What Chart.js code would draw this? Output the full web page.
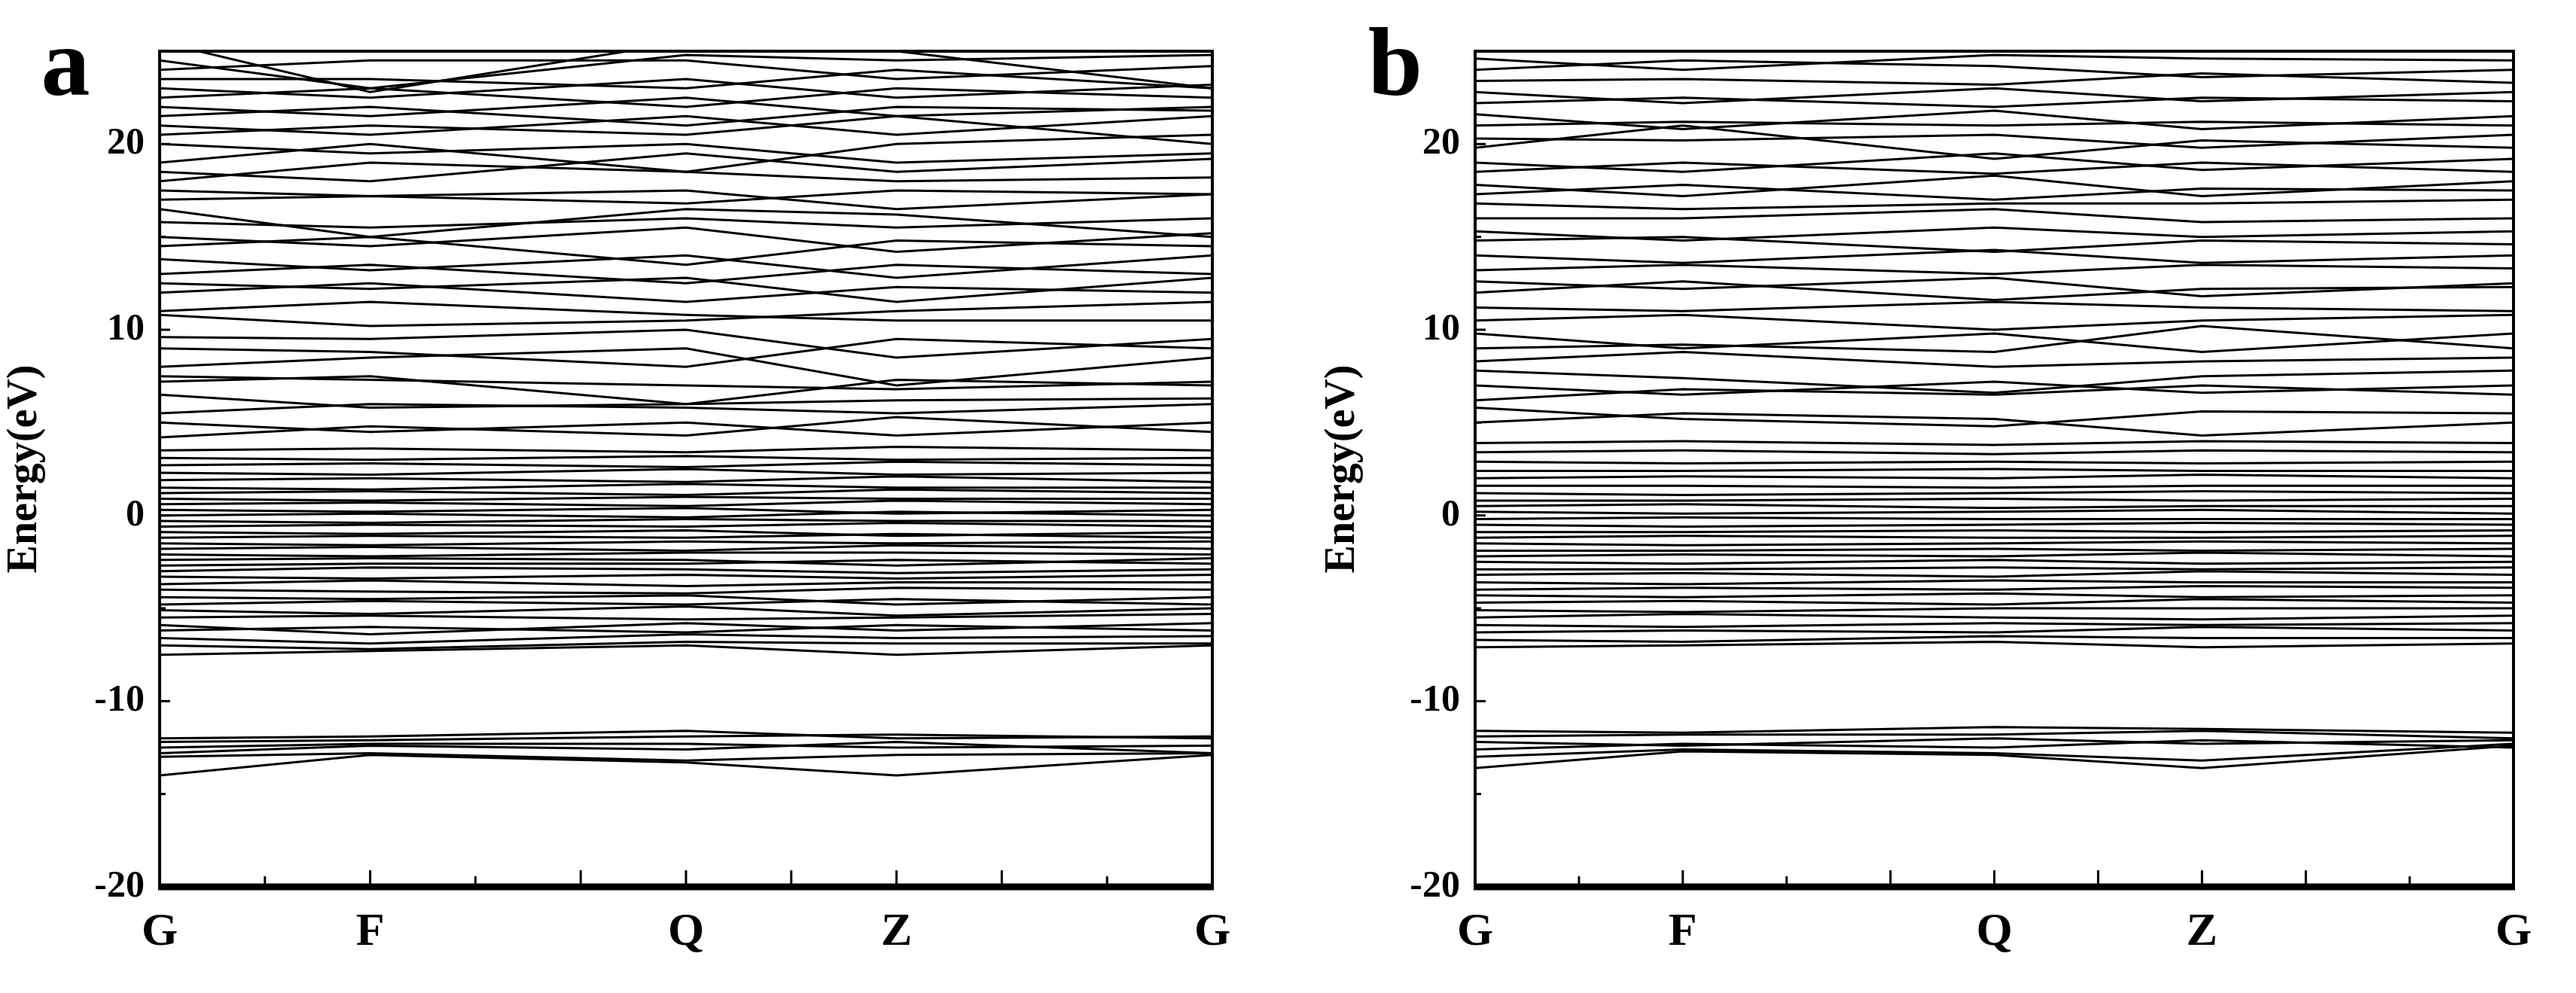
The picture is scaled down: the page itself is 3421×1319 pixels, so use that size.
<!DOCTYPE html>
<html><head><meta charset="utf-8">
<script src="https://cdn.jsdelivr.net/npm/chart.js@4/dist/chart.umd.min.js"></script>
<style>body{margin:0;background:#fff;width:3421px;height:1319px;overflow:hidden}
canvas{position:absolute;top:0}</style></head><body>
<canvas id="ca" style="left:0" width="1700" height="1319"></canvas>
<canvas id="cb" style="left:1750px" width="1671" height="1319"></canvas>
<script>
const kPos = [0, 2, 5, 7, 10];
const kLabels = {0:'G', 2:'F', 5:'Q', 7:'Z', 10:'G'};
const yTicks = [-20, -10, 0, 10, 20];
const bandsA = [
[-12.0,-11.9,-11.6,-12.0,-11.9],[-12.2,-12.1,-11.9,-11.8,-12.0],[-12.5,-12.3,-12.3,-12.5,-12.4],
[-12.8,-12.4,-12.6,-12.2,-12.8],[-13.0,-12.8,-13.2,-12.9,-12.8],[-14.0,-12.9,-13.3,-14.0,-12.9],
[-7.5,-7.3,-7.0,-7.5,-7.0],[-7.0,-7.2,-6.8,-6.9,-6.9],[-6.6,-6.9,-6.4,-6.6,-6.5],[-6.2,-6.0,-6.3,-5.9,-6.2],
[-5.9,-6.4,-5.8,-6.2,-5.8],[-5.5,-5.4,-5.6,-5.5,-5.3],[-5.1,-5.3,-4.9,-5.4,-5.0],[-4.8,-4.6,-4.8,-4.5,-4.8],
[-4.4,-4.5,-4.3,-4.8,-4.4],[-4.0,-4.1,-4.2,-3.9,-4.0],[-3.7,-3.5,-3.8,-3.6,-3.6],[-3.3,-3.4,-3.2,-3.4,-3.2],
[-3.0,-2.8,-2.9,-3.1,-2.9],[-2.7,-2.6,-2.6,-2.4,-2.6],[-2.4,-2.3,-2.4,-2.7,-2.3],[-2.1,-2.2,-2.0,-2.0,-2.1],
[-1.8,-1.7,-1.9,-1.6,-1.8],[-1.5,-1.6,-1.4,-1.5,-1.4],[-1.2,-1.1,-1.2,-1.0,-1.2],[-0.9,-1.0,-0.8,-1.1,-0.9],
[-0.6,-0.5,-0.6,-0.4,-0.6],[-0.3,-0.4,-0.2,-0.3,-0.3],[0.0,0.1,-0.1,0.2,0.0],[0.3,0.2,0.4,0.1,0.3],
[0.6,0.7,0.5,0.8,0.6],[0.9,0.8,1.0,0.9,0.9],[1.2,1.3,1.1,1.4,1.2],[1.5,1.4,1.7,1.5,1.5],
[1.9,2.0,1.8,2.1,1.8],[2.3,2.2,2.5,2.2,2.3],[2.7,2.8,2.6,2.9,2.7],[3.1,3.0,3.2,3.0,3.1],[3.5,3.6,3.4,3.7,3.5],
[4.2,4.8,4.3,5.3,4.5],[5.0,4.5,5.0,4.3,5.0],[5.5,6.0,5.8,5.5,6.0],[6.5,5.8,6.0,6.2,6.3],
[7.2,7.5,6.0,7.3,7.0],[7.5,7.3,7.0,6.8,7.2],[8.0,8.5,9.0,7.0,8.5],[9.0,8.8,8.0,9.5,9.0],
[9.6,9.5,10.0,8.5,9.5],[10.8,10.2,10.5,11.0,11.5],[11.0,11.5,10.8,10.5,10.5],[12.0,12.5,11.5,12.3,12.0],
[12.5,12.2,12.8,11.5,12.8],[13.0,13.5,12.5,13.5,13.0],[13.8,13.2,14.0,12.8,14.0],[14.5,15.0,13.5,14.8,14.5],
[15.0,14.5,15.5,14.2,15.2],[15.8,15.5,16.0,15.5,16.0],[16.5,15.0,16.5,16.2,15.0],[17.0,17.2,16.8,17.5,17.3],
[17.5,17.2,17.5,16.5,17.3],[18.0,19.0,18.5,18.0,18.2],[18.5,18.0,19.5,18.5,19.2],[19.0,20.0,18.5,20.0,20.5],
[20.0,19.5,20.0,19.0,19.5],[20.5,21.0,20.5,21.5,20.0],[21.0,20.5,21.5,20.5,21.5],[21.5,22.0,21.0,22.0,21.8],
[22.0,21.5,22.5,21.5,22.0],[22.5,23.0,22.0,23.0,22.5],[23.0,22.5,23.5,22.5,23.2],[23.5,23.5,23.0,24.0,23.0],
[24.0,24.5,24.5,23.5,24.2],[24.5,23.0,24.8,24.5,24.8],[25.5,22.8,25.5,25.0,23.0]
];
const bandsB = [
[-11.6,-11.7,-11.4,-11.5,-11.7],[-11.9,-11.8,-11.8,-11.6,-12.0],[-12.2,-12.4,-12.0,-12.3,-12.1],
[-12.6,-12.3,-12.5,-12.1,-12.5],[-13.0,-12.6,-12.8,-13.2,-12.3],[-13.6,-12.7,-12.9,-13.6,-12.4],
[-7.1,-7.0,-6.8,-7.1,-6.9],[-6.7,-6.8,-6.5,-6.6,-6.6],[-6.3,-6.2,-6.3,-6.0,-6.2],[-5.9,-6.0,-5.8,-5.9,-5.8],
[-5.5,-5.3,-5.5,-5.6,-5.4],[-5.1,-5.2,-5.0,-5.0,-5.0],[-4.7,-4.6,-4.8,-4.5,-4.7],[-4.3,-4.4,-4.2,-4.4,-4.3],
[-4.0,-3.9,-4.0,-3.8,-3.9],[-3.6,-3.7,-3.5,-3.6,-3.6],[-3.2,-3.1,-3.3,-3.0,-3.2],[-2.9,-2.9,-2.8,-2.9,-2.8],
[-2.5,-2.6,-2.4,-2.6,-2.5],[-2.2,-2.1,-2.2,-2.0,-2.2],[-1.9,-1.9,-1.8,-1.9,-1.8],[-1.5,-1.6,-1.5,-1.4,-1.5],
[-1.2,-1.1,-1.2,-1.2,-1.1],[-0.9,-0.9,-0.8,-0.9,-0.8],[-0.5,-0.6,-0.5,-0.4,-0.5],[-0.2,-0.1,-0.2,-0.2,-0.2],
[0.2,0.1,0.2,0.3,0.1],[0.5,0.6,0.4,0.5,0.5],[0.8,0.8,0.9,0.8,0.9],[1.2,1.1,1.2,1.3,1.2],
[1.6,1.6,1.5,1.6,1.6],[2.0,2.1,2.0,2.2,2.0],[2.4,2.4,2.5,2.4,2.4],[2.9,2.8,2.9,2.8,2.9],[3.4,3.5,3.3,3.5,3.4],
[3.9,4.0,3.8,4.0,3.9],
[5.0,5.5,5.2,4.3,5.0],[5.8,5.2,4.8,5.6,5.5],[6.2,6.8,6.5,7.0,6.5],[7.0,6.5,7.2,6.6,7.0],
[7.8,7.4,6.6,7.5,7.8],[8.3,8.8,8.0,8.3,8.5],[9.0,9.2,8.8,10.2,9.0],[9.8,9.0,9.8,8.8,9.8],
[10.5,10.8,10.0,10.5,10.8],[11.2,11.0,11.5,11.2,11.0],[12.0,12.6,11.6,12.2,12.3],[12.6,12.2,12.8,11.8,12.5],
[13.2,13.5,13.0,13.5,13.3],[14.0,13.6,14.3,13.6,14.0],[14.8,15.0,14.2,14.8,14.6],[15.3,14.8,15.5,15.0,15.3],
[16.0,16.0,16.5,15.8,16.0],[16.8,16.5,16.8,16.8,17.0],[17.3,17.8,17.0,17.6,17.5],[17.8,17.2,18.3,17.2,18.0],
[18.5,19.0,18.4,19.0,18.5],[19.0,18.5,19.5,18.6,19.2],[19.8,21.0,19.2,20.2,19.8],[20.3,20.2,20.5,19.8,20.5],
[21.0,21.2,21.0,21.2,21.0],[21.6,20.8,21.8,20.8,21.5],[22.2,22.5,22.0,22.5,22.3],[22.8,22.2,23.0,22.3,22.8],
[23.4,23.5,23.2,23.8,23.3],[24.0,24.5,24.2,23.6,24.0],[24.6,24.0,24.8,24.6,24.5]
];
const inward = {
  id:'inward',
  afterDraw(c, a, o){
    const ctx=c.ctx, ca=c.chartArea, x=c.scales.x, y=c.scales.y;
    ctx.save(); ctx.strokeStyle='#000';
    ctx.lineWidth=3;
    for(let v=1; v<10; v++){const px=x.getPixelForValue(v); ctx.beginPath(); ctx.moveTo(px,ca.bottom); ctx.lineTo(px,ca.bottom-(v%2===0||v===5||v===7?22:14)); ctx.stroke();}
    for(let v=-15; v<=20; v+=5){const py=y.getPixelForValue(v); ctx.beginPath(); ctx.moveTo(ca.left,py); ctx.lineTo(ca.left+(v%10===0?14:8),py); ctx.stroke();}
    ctx.lineWidth=4; ctx.strokeRect(ca.left,ca.top,ca.right-ca.left,ca.bottom-ca.top);
    ctx.lineWidth=9; ctx.beginPath(); ctx.moveTo(ca.left-2,ca.bottom); ctx.lineTo(ca.right+2,ca.bottom); ctx.stroke();
    ctx.fillStyle='#000'; ctx.font='bold 130px "Liberation Serif"'; ctx.textAlign='center'; ctx.textBaseline='middle';
    ctx.fillText(o.letter, o.lx, 92);
    ctx.restore();
  }
};
function make(id, bands, letter, lx, padRight, yw){
  new Chart(document.getElementById(id), {
    type:'line',
    data:{datasets: bands.map(b=>({data:b.map((v,i)=>({x:kPos[i], y:v})), borderColor:'#000', borderWidth:3, pointRadius:0, tension:0}))},
    options:{responsive:false, animation:false, events:[],
      layout:{padding:{top:68,right:padRight,left:0,bottom:0}},
      plugins:{legend:{display:false}, tooltip:{enabled:false}, inward:{letter, lx}},
      scales:{
        x:{type:'linear', min:0, max:10, afterFit:s=>{s.height=141;}, grid:{display:false}, border:{display:false},
           afterBuildTicks:s=>{s.ticks=kPos.map(v=>({value:v}));},
           ticks:{callback:v=>kLabels[v]||'', color:'#000', font:{family:'Liberation Serif', weight:'bold', size:62}, padding:16, maxRotation:0, autoSkip:false}},
        y:{min:-20, max:25, afterFit:s=>{s.width=yw;}, grid:{display:false}, border:{display:false},
           afterBuildTicks:s=>{s.ticks=yTicks.map(v=>({value:v}));},
           ticks:{color:'#000', font:{family:'Liberation Serif', weight:'bold', size:50}, padding:12},
           title:{display:true, text:'Energy(eV)', color:'#000', font:{family:'Liberation Serif', weight:'bold', size:56}, padding:0}}
      }},
    plugins:[inward]
  });
}
make('ca', bandsA, 'a', 87, 90, 212);
make('cb', bandsB, 'b', 103, 83, 209);
</script></body></html>
